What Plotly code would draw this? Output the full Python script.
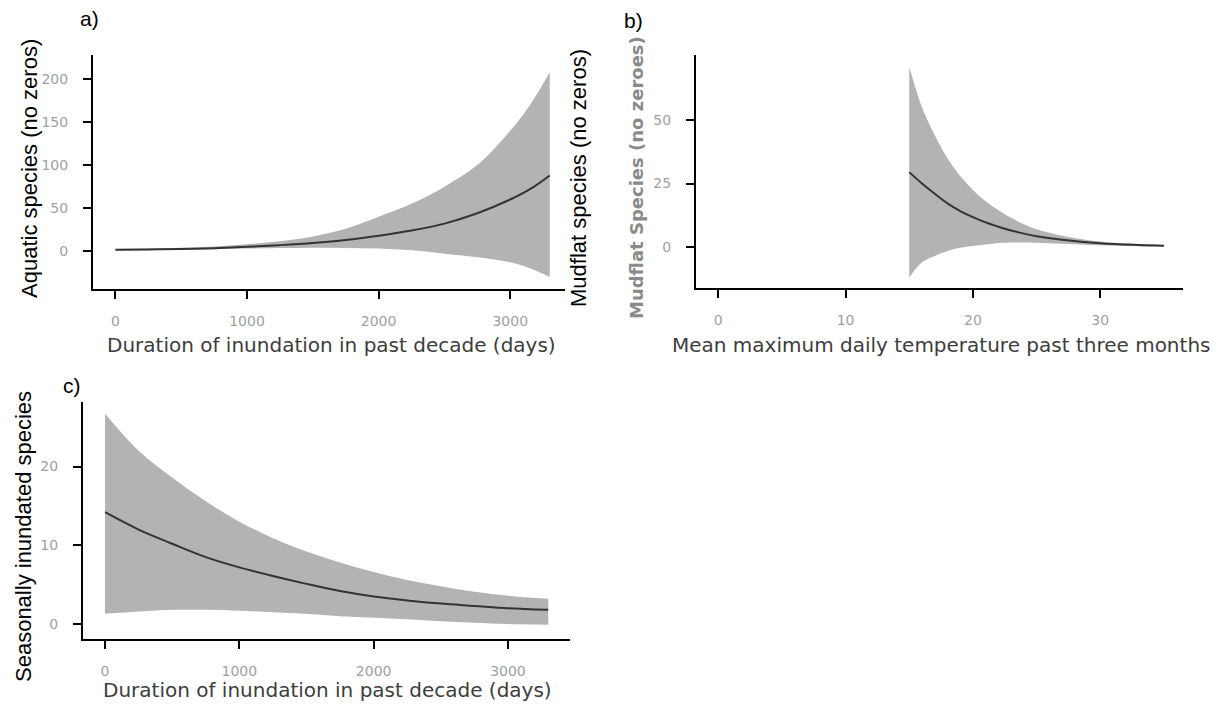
import plotly.graph_objects as go

# ---------------- data ----------------
# a) Aquatic species vs duration of inundation
aq_x = [0, 250, 500, 750, 1000, 1250, 1500, 1750, 2000, 2250, 2500, 2750, 3000, 3150, 3300]
aq_mean = [1.5, 2, 2.5, 3.5, 5, 7, 9.5, 13, 18, 24, 32, 44, 60, 72, 88]
aq_upper = [2.5, 3, 4, 5.5, 8, 11.5, 17, 26, 40, 55, 75, 100, 140, 170, 208]
aq_lower = [0.8, 1.2, 1.6, 2.2, 3, 3.6, 4, 3.8, 3.2, 1, -3, -7, -13, -20, -30]

# b) Mudflat species vs mean max daily temperature
mf_x = [15, 16, 17, 18, 19, 20, 21, 22, 23, 24, 25, 27, 30, 33, 35]
mf_mean = [29.5, 25, 21, 17.2, 14.2, 11.8, 9.7, 8.0, 6.5, 5.3, 4.3, 2.9, 1.5, 0.8, 0.5]
mf_upper = [71, 55, 44, 35, 28, 22.5, 18, 14.5, 11.5, 9, 7, 4.5, 2.2, 1.2, 0.8]
mf_lower = [-12, -6, -3.5, -1.5, -0.3, 0.4, 1.0, 1.6, 1.8, 1.8, 1.7, 1.3, 0.7, 0.3, 0.2]

# c) Seasonally inundated species vs duration of inundation
si_x = [0, 250, 500, 750, 1000, 1250, 1500, 1750, 2000, 2250, 2500, 2750, 3000, 3300]
si_mean = [14.2, 12, 10.2, 8.5, 7.2, 6.1, 5.1, 4.2, 3.5, 3.0, 2.6, 2.3, 2.0, 1.8]
si_upper = [26.7, 22, 18.6, 15.6, 13, 10.9, 9.2, 7.8, 6.6, 5.6, 4.8, 4.1, 3.6, 3.2]
si_lower = [1.3, 1.6, 1.8, 1.8, 1.7, 1.5, 1.3, 1.0, 0.8, 0.6, 0.35, 0.15, 0, -0.1]

dur_ticks = [0, 1000, 2000, 3000]
aq_yticks = [0, 50, 100, 150, 200]
mf_xticks = [0, 10, 20, 30]
mf_yticks = [0, 25, 50]
si_yticks = [0, 10, 20]

# ---------------- styling ----------------
W, H = 1221, 713
BAND = "#B3B3B3"
LINE = "#333333"
TICKFONT = dict(family="DejaVu Sans", size=14, color="#a0a0a0")
XTITLEFONT = dict(family="DejaVu Sans", size=20, color="#3d3d3d")
BLACKFONT = dict(family="Liberation Sans, Arial", size=22, color="#000000")


def px_dom_x(l, r):
    return [l / W, r / W]


def px_dom_y(top, bottom):
    return [1 - bottom / H, 1 - top / H]


fig = go.Figure()


def add_panel(xs, mean, upper, lower, xa, ya):
    fig.add_trace(go.Scatter(
        x=xs, y=lower, mode="lines", line=dict(width=0, shape="spline"),
        hoverinfo="skip", showlegend=False, xaxis=xa, yaxis=ya))
    fig.add_trace(go.Scatter(
        x=xs, y=upper, mode="lines", line=dict(width=0, shape="spline"),
        fill="tonexty", fillcolor=BAND,
        hoverinfo="skip", showlegend=False, xaxis=xa, yaxis=ya))
    fig.add_trace(go.Scatter(
        x=xs, y=mean, mode="lines", line=dict(color=LINE, width=2, shape="spline"),
        showlegend=False, xaxis=xa, yaxis=ya))


add_panel(aq_x, aq_mean, aq_upper, aq_lower, "x", "y")
add_panel(mf_x, mf_mean, mf_upper, mf_lower, "x2", "y2")
add_panel(si_x, si_mean, si_upper, si_lower, "x3", "y3")

axis_common = dict(showline=True, linecolor="black", linewidth=2, ticks="outside",
                   ticklen=8, tickwidth=2, tickcolor="black", showgrid=False,
                   zeroline=False, tickfont=TICKFONT)

fig.update_layout(
    width=W, height=H, margin=dict(l=0, r=0, t=0, b=0),
    paper_bgcolor="white", plot_bgcolor="white", showlegend=False,
    xaxis=dict(domain=px_dom_x(93, 565), anchor="y", range=[-170, 3416],
               tickvals=dur_ticks, ticklabelstandoff=10, **axis_common),
    yaxis=dict(domain=px_dom_y(55, 289), anchor="x", range=[-44, 228],
               tickvals=aq_yticks, ticklabelstandoff=12, **axis_common),
    xaxis2=dict(domain=px_dom_x(696, 1183), anchor="y2", range=[-1.75, 36.5],
                tickvals=mf_xticks, ticklabelstandoff=10, **axis_common),
    yaxis2=dict(domain=px_dom_y(55, 288), anchor="x2", range=[-16.1, 75.6],
                tickvals=mf_yticks, ticklabelstandoff=12, **axis_common),
    xaxis3=dict(domain=px_dom_x(83, 570), anchor="y3", range=[-164, 3462],
                tickvals=dur_ticks, ticklabelstandoff=10, **axis_common),
    yaxis3=dict(domain=px_dom_y(402, 639), anchor="x3", range=[-1.9, 28.2],
                tickvals=si_yticks, ticklabelstandoff=12, **axis_common),
)


def ann(text, x, y, font, angle=0):
    fig.add_annotation(text=text, x=x / W, y=1 - y / H, xref="paper", yref="paper",
                       xanchor="center", yanchor="middle", showarrow=False,
                       font=font, textangle=angle)


# ggplot axis titles
ann("Duration of inundation in past decade (days)", 331, 345, XTITLEFONT)
ann("Mean maximum daily temperature past three months", 941, 345, XTITLEFONT)
ann("Duration of inundation in past decade (days)", 327, 690, XTITLEFONT)
ann("Mudflat Species (no zeroes)", 636, 178,
    dict(family="DejaVu Sans", size=18, color="#8a8a8a", weight="bold"), angle=-90)

# overlaid black titles and panel labels
ann("Aquatic species (no zeros)", 29, 169, BLACKFONT, angle=-90)
ann("Mudflat species (no zeros)", 578, 178, BLACKFONT, angle=-90)
ann("Seasonally inundated species", 23, 537, BLACKFONT, angle=-90)
ann("a)", 89, 18, dict(family="Liberation Sans, Arial", size=21, color="black"))
ann("b)", 633, 20, dict(family="Liberation Sans, Arial", size=21, color="black"))
ann("c)", 72, 385, dict(family="Liberation Sans, Arial", size=21, color="black"))

fig.write_html("out.html")
